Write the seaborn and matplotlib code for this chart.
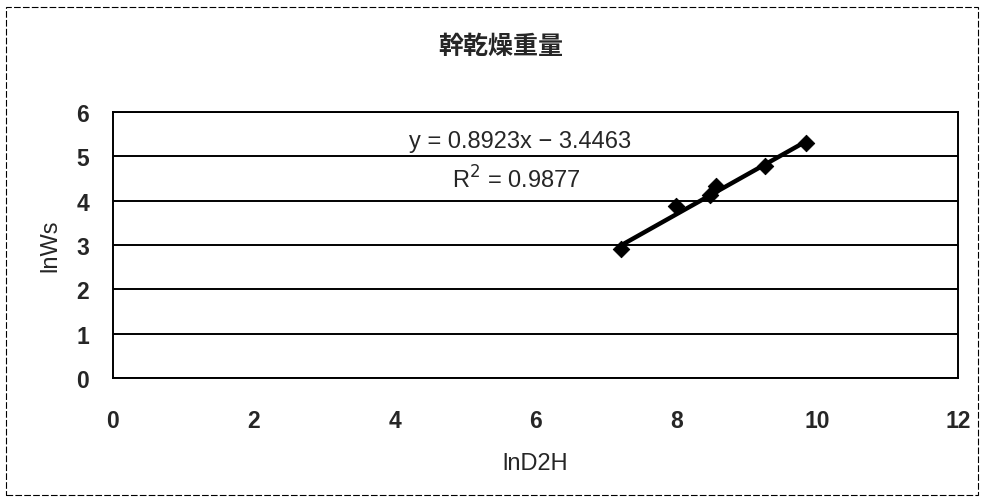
import numpy as np
import pandas as pd
import matplotlib
matplotlib.use("Agg")
import matplotlib.pyplot as plt
import seaborn as sns
from matplotlib.patches import Rectangle

# valores
ln_d2h = [7.22, 8.00, 8.48, 8.56, 9.26, 9.84]
ln_ws = [2.92, 3.88, 4.12, 4.33, 4.78, 5.31]
pendiente = 0.8923
intercepto = -3.4463
r2 = 0.9877
titulo = "幹乾燥重量"
x_ticks = [0, 2, 4, 6, 8, 10, 12]
y_ticks = [0, 1, 2, 3, 4, 5, 6]

df = pd.DataFrame({"lnD2H": ln_d2h, "lnWs": ln_ws})
x_linea = np.array([min(ln_d2h), max(ln_d2h)])
df_linea = pd.DataFrame({"lnD2H": x_linea, "lnWs": pendiente * x_linea + intercepto})

sns.set_theme(style="white")
plt.rcParams['font.family'] = ['Liberation Sans', 'Noto Sans CJK JP', 'DejaVu Sans']

fig = plt.figure(figsize=(9.84, 5.02), dpi=100)
ax = fig.add_axes([0.1148, 0.245, 0.8588, 0.530])

# borde exterior del área del gráfico
fig.patches.append(Rectangle((0.006, 0.012), 0.988, 0.972, transform=fig.transFigure,
                             fill=False, edgecolor='black', linewidth=0.8, linestyle=(0, (6, 2))))

sns.lineplot(data=df_linea, x="lnD2H", y="lnWs", color="black", linewidth=3.2, ax=ax)
sns.scatterplot(data=df, x="lnD2H", y="lnWs", marker="D", s=70, color="black",
                edgecolor="black", ax=ax, zorder=3)

ax.set_xlim(0, 12)
ax.set_ylim(0, 6)
ax.set_xticks(x_ticks)
ax.set_yticks(y_ticks)
ax.grid(axis='y', color='black', linewidth=1.4)
ax.grid(axis='x', visible=False)
for s in ax.spines.values():
    s.set_color('black')
    s.set_linewidth(1.4)

ax.tick_params(axis='x', direction='in', length=3, color='black', pad=22, labelsize=16.5)
ax.tick_params(axis='y', length=0, pad=17, labelsize=16.5)
for lbl in ax.get_xticklabels() + ax.get_yticklabels():
    lbl.set_fontweight('bold')

ax.set_xlabel("lnD2H", fontsize=17, labelpad=15)
ax.set_ylabel("lnWs", fontsize=17, labelpad=11)

fig.text(0.509, 0.906, titulo, ha='center', va='center', fontsize=18, fontweight='bold',
         family=['Noto Sans CJK JP', 'DejaVu Sans'])

ax.text(0.482, 0.891, f"y = {pendiente}x − {abs(intercepto)}", transform=ax.transAxes,
        ha='center', va='center', fontsize=17)
ax.text(0.477, 0.748, f"R$^2$ = {r2}", transform=ax.transAxes,
        ha='center', va='center', fontsize=17)

fig.savefig("out.png", dpi=100)
